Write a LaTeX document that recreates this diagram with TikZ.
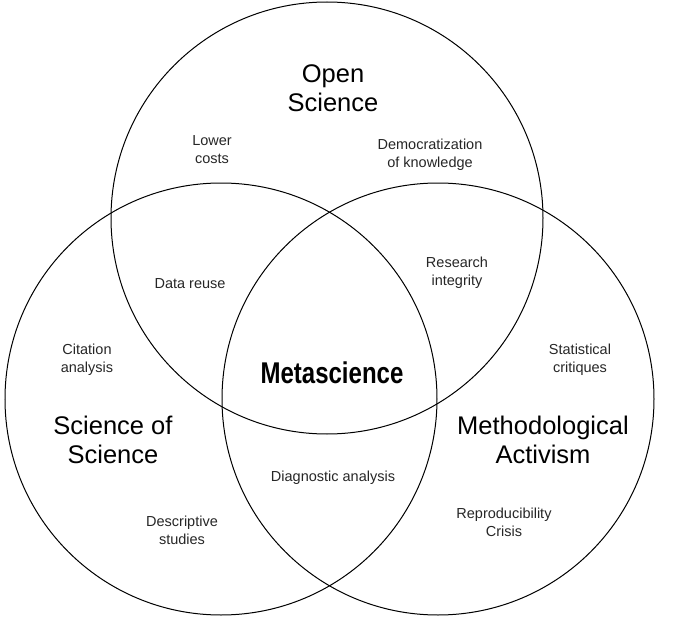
\documentclass[tikz,border=0pt]{standalone}
\usepackage{fontspec}
\setmainfont{Liberation Sans}
\begin{document}
\begin{tikzpicture}[x=1pt, y=-1pt,
    set/.style={circle, draw=black, line width=1pt, minimum size=432pt, inner sep=0pt},
    big/.style={align=center, font=\fontsize{25.5}{29}\selectfont},
    small/.style={align=center, font=\fontsize{14.5}{18}\selectfont, text=black!85}]

    \useasboundingbox (0,0) rectangle (689,629);

    % Circles
    \node[set] (open) at (327,218) {};
    \node[set] (sos) at (221,399) {};
    \node[set] (meth) at (438,399) {};

    % Titles
    \node[big] (topen) at (333,88) {Open\\Science};
    \node[big] (tsos) at (113,440) {Science of\\Science};
    \node[big] (tmeth) at (543,440) {Methodological\\Activism};
    \node[font=\fontsize{30}{33}\selectfont\bfseries] (meta) at (332,373) {\scalebox{0.8}[1]{Metascience}};

    % Topics
    \node[small] (costs) at (212,150) {Lower\\costs};
    \node[small] (democ) at (430,155) {Democratization\\of knowledge};
    \node[small] (reuse) at (190,284) {Data reuse};
    \node[small] (integ) at (457,273) {Research\\integrity};
    \node[small] (cite) at (87,360) {Citation\\analysis};
    \node[small] (stat) at (580,360) {Statistical\\critiques};
    \node[small] (diag) at (333,478) {Diagnostic analysis};
    \node[small] (descr) at (182,530) {Descriptive\\studies};
    \node[small] (repro) at (504,522) {Reproducibility\\Crisis};

\end{tikzpicture}
\end{document}
